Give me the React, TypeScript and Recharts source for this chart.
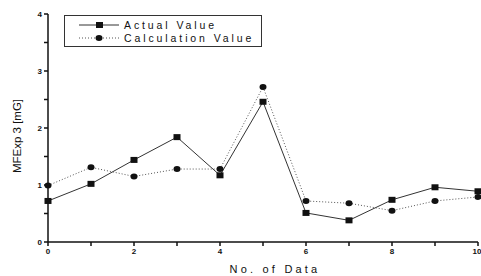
import React from 'react';
import { LineChart, Line, XAxis, YAxis } from 'recharts';

const dataIndex = [0, 1, 2, 3, 4, 5, 6, 7, 8, 9, 10];
const actualValues = [0.72, 1.02, 1.44, 1.84, 1.17, 2.46, 0.51, 0.38, 0.74, 0.96, 0.89];
const calcValues = [0.99, 1.31, 1.15, 1.28, 1.28, 2.72, 0.72, 0.68, 0.55, 0.72, 0.79];
const xTicks = [0, 1, 2, 3, 4, 5, 6, 7, 8, 9, 10];
const yTicks = [0, 0.5, 1, 1.5, 2, 2.5, 3, 3.5, 4];

const chartData = dataIndex.map((n, i) => ({
  n,
  actual: actualValues[i],
  calc: calcValues[i],
}));

const font = 'Arial, "Liberation Sans", sans-serif';

const SquareDot = (props: any) => {
  const { cx, cy, index } = props;
  if (cx == null || cy == null) return null;
  return <rect key={`sq-${index}`} x={cx - 3.5} y={cy - 3} width={7} height={6} fill="#111" />;
};

const CircleDot = (props: any) => {
  const { cx, cy, index } = props;
  if (cx == null || cy == null) return null;
  return <ellipse key={`ci-${index}`} cx={cx} cy={cy} rx={3.5} ry={3} fill="#111" />;
};

// y label sits a bit below the plot centre in the original
const YLabel = () => (
  <text
    x={17}
    y={136}
    transform="rotate(-90, 17, 136)"
    textAnchor="middle"
    dominantBaseline="central"
    fill="#111"
    fontSize={11.5}
    fontFamily={font}
  >
    MFExp 3 [mG]
  </text>
);

const XLabel = () => (
  <text
    x={275}
    y={269}
    textAnchor="middle"
    dominantBaseline="central"
    fill="#111"
    fontSize={11}
    letterSpacing={3.2}
    fontFamily={font}
  >
    No. of Data
  </text>
);

// legend drawn as an overlay so it does not push the plot area around
const LegendBox = () => (
  <div
    style={{
      position: 'absolute',
      left: 64,
      top: 15,
      width: 196,
      height: 30,
      border: '1px solid #333',
      fontFamily: font,
      fontSize: 10.5,
      letterSpacing: 2.9,
      color: '#111',
      background: '#fff',
    }}
  >
    <svg width={50} height={30} style={{ position: 'absolute', left: 12, top: 0 }}>
      <line x1={2} y1={9} x2={42} y2={9} stroke="#333" strokeWidth={1} />
      <rect x={19} y={6} width={7} height={6} fill="#111" />
      <line x1={2} y1={22} x2={42} y2={22} stroke="#555" strokeWidth={1} strokeDasharray="1 2" />
      <ellipse cx={22} cy={22} rx={3.5} ry={3} fill="#111" />
    </svg>
    <div style={{ position: 'absolute', left: 59, top: 3, lineHeight: '12px' }}>Actual Value</div>
    <div style={{ position: 'absolute', left: 59, top: 16, lineHeight: '12px' }}>Calculation Value</div>
  </div>
);

export default function App() {
  return (
    <div style={{ width: 481, height: 276, background: '#fff', position: 'relative' }}>
      <style>{`body{margin:0}`}</style>
      <LineChart
        width={481}
        height={276}
        data={chartData}
        margin={{ top: 14, right: 3, bottom: 0, left: 0 }}
      >
        <XAxis
          dataKey="n"
          type="number"
          domain={[0, 10]}
          ticks={xTicks}
          tickFormatter={(v: number) => (v % 2 === 0 ? String(v) : '')}
          height={34}
          tickSize={4}
          stroke="#111"
          strokeWidth={1.5}
          tick={{ fill: '#111', fontSize: 8, fontWeight: 'bold', fontFamily: font }}
          label={{ content: () => <XLabel /> }}
        />
        <YAxis
          type="number"
          domain={[0, 4]}
          ticks={yTicks}
          tickFormatter={(v: number) => (Number.isInteger(v) ? String(v) : '')}
          width={48}
          tickSize={4}
          stroke="#111"
          strokeWidth={1.5}
          tick={{ fill: '#111', fontSize: 8, fontWeight: 'bold', fontFamily: font }}
          label={{ content: () => <YLabel /> }}
        />
        <Line
          type="linear"
          dataKey="actual"
          stroke="#333"
          strokeWidth={1}
          dot={SquareDot}
          isAnimationActive={false}
        />
        <Line
          type="linear"
          dataKey="calc"
          stroke="#555"
          strokeWidth={1}
          strokeDasharray="1 2"
          dot={CircleDot}
          isAnimationActive={false}
        />
      </LineChart>
      <LegendBox />
    </div>
  );
}
